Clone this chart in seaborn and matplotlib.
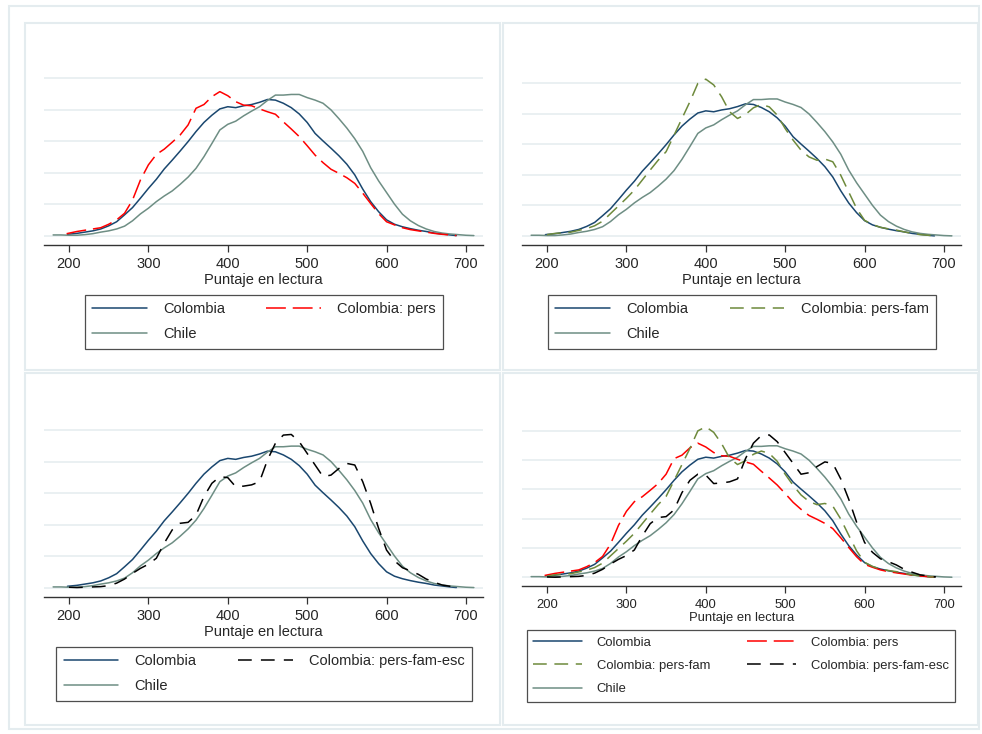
import numpy as np
import pandas as pd
import matplotlib
matplotlib.use("Agg")
import matplotlib.pyplot as plt
from matplotlib.lines import Line2D
from matplotlib.patches import Rectangle
import seaborn as sns

# ---------------- data (score, kernel density x 1000) ----------------
colombia_x = [198, 210, 220, 230, 240, 250, 260, 270, 280, 290, 300, 310, 320, 330, 340,
              350, 360, 370, 380, 390, 400, 410, 420, 430, 440, 450, 460, 470, 480, 490,
              500, 510, 520, 530, 540, 550, 560, 570, 580, 590, 600, 610, 620, 630, 640,
              650, 660, 670, 680, 688]
colombia_y = [0.04, 0.07, 0.11, 0.15, 0.21, 0.31, 0.44, 0.66, 0.89, 1.19, 1.50, 1.79, 2.12, 2.40, 2.69,
              2.99, 3.31, 3.60, 3.83, 4.03, 4.10, 4.07, 4.13, 4.17, 4.24, 4.33, 4.31, 4.21, 4.07, 3.87,
              3.60, 3.25, 3.01, 2.78, 2.54, 2.27, 1.93, 1.48, 1.08, 0.76, 0.50, 0.36, 0.28, 0.22, 0.17,
              0.13, 0.08, 0.05, 0.02, 0.00]

chile_x = [180, 190, 200, 210, 220, 230, 240, 250, 260, 270, 280, 290, 300, 310, 320, 330,
           340, 350, 360, 370, 380, 390, 400, 410, 420, 430, 440, 450, 460, 470, 480, 490,
           500, 510, 520, 530, 540, 550, 560, 570, 580, 590, 600, 610, 620, 630, 640, 650,
           660, 670, 680, 690, 700, 710]
chile_y = [0.02, 0.02, 0.01, 0.01, 0.03, 0.06, 0.11, 0.15, 0.21, 0.30, 0.47, 0.69, 0.87, 1.08, 1.26, 1.42,
           1.63, 1.86, 2.14, 2.51, 2.93, 3.36, 3.54, 3.64, 3.81, 3.96, 4.10, 4.30, 4.47, 4.47, 4.49, 4.49,
           4.39, 4.31, 4.21, 4.00, 3.72, 3.42, 3.08, 2.68, 2.16, 1.74, 1.37, 1.00, 0.68, 0.47, 0.32, 0.21,
           0.13, 0.08, 0.05, 0.03, 0.01, 0.00]

pers_x = [197, 210, 220, 230, 240, 250, 260, 270, 280, 290, 300, 310, 320, 330, 340, 350,
          360, 370, 380, 390, 400, 410, 420, 430, 440, 450, 460, 470, 480, 490, 500, 510,
          520, 530, 540, 550, 560, 570, 580, 590, 600, 610, 620, 630, 640, 650, 660, 670,
          680, 688]
pers_y = [0.06, 0.13, 0.17, 0.21, 0.25, 0.36, 0.50, 0.71, 1.13, 1.77, 2.25, 2.58, 2.75, 2.97, 3.20, 3.52,
          4.05, 4.17, 4.42, 4.58, 4.45, 4.26, 4.15, 4.13, 4.03, 3.94, 3.86, 3.62, 3.39, 3.15, 2.86, 2.56,
          2.32, 2.11, 1.98, 1.84, 1.66, 1.35, 1.02, 0.70, 0.44, 0.34, 0.25, 0.19, 0.15, 0.11, 0.07, 0.04,
          0.02, 0.00]

persfam_x = [200, 210, 220, 230, 240, 250, 260, 270, 280, 290, 300, 310, 320, 330, 340, 350,
             360, 370, 380, 390, 400, 410, 420, 430, 440, 450, 460, 470, 480, 490, 500, 510,
             520, 530, 540, 550, 560, 570, 580, 590, 600, 610, 620, 630, 640, 650, 660, 670,
             680, 688]
persfam_y = [0.04, 0.08, 0.10, 0.12, 0.18, 0.24, 0.33, 0.48, 0.73, 0.98, 1.23, 1.50, 1.83, 2.16, 2.48, 2.76,
             3.30, 3.85, 4.40, 5.00, 5.14, 4.95, 4.56, 4.07, 3.85, 3.98, 4.20, 4.31, 4.23, 3.96, 3.52, 3.14,
             2.81, 2.59, 2.48, 2.52, 2.43, 1.99, 1.44, 0.90, 0.51, 0.37, 0.28, 0.23, 0.19, 0.13, 0.08, 0.04,
             0.02, 0.00]

persfamesc_x = [200, 210, 220, 230, 240, 250, 260, 270, 280, 290, 300, 310, 320, 330, 340, 350,
                360, 370, 380, 390, 400, 410, 420, 430, 440, 450, 460, 470, 480, 490, 500, 510,
                520, 530, 540, 550, 560, 570, 580, 590, 600, 610, 620, 630, 640, 650, 660, 670,
                680, 690]
persfamesc_y = [0.01, 0.00, 0.01, 0.02, 0.03, 0.06, 0.14, 0.27, 0.45, 0.61, 0.74, 0.93, 1.41, 1.83, 2.04, 2.07,
                2.30, 2.89, 3.31, 3.52, 3.49, 3.20, 3.22, 3.26, 3.36, 4.05, 4.58, 4.84, 4.86, 4.63, 4.26, 3.89,
                3.52, 3.57, 3.78, 3.94, 3.89, 3.36, 2.67, 1.88, 1.19, 0.85, 0.63, 0.53, 0.42, 0.27, 0.17, 0.08,
                0.04, 0.01]

names = ["Colombia", "Chile", "Colombia: pers", "Colombia: pers-fam", "Colombia: pers-fam-esc"]
xticks = [200, 300, 400, 500, 600, 700]
xlabel = "Puntaje en lectura"

frames = []
for name, xs, ys in [(names[0], colombia_x, colombia_y), (names[1], chile_x, chile_y),
                     (names[2], pers_x, pers_y), (names[3], persfam_x, persfam_y),
                     (names[4], persfamesc_x, persfamesc_y)]:
    frames.append(pd.DataFrame({"puntaje": xs, "densidad": np.array(ys) * 1e-3, "serie": name}))
df = pd.concat(frames, ignore_index=True)

# ---------------- styles ----------------
palette = {"Colombia": "#1a476f", "Chile": "#6e8e84", "Colombia: pers": "#ff0000",
           "Colombia: pers-fam": "#6e8a3c", "Colombia: pers-fam-esc": "#000000"}
dash_map = {"Colombia": "", "Chile": "", "Colombia: pers": (13, 4.5),
            "Colombia: pers-fam": (9, 5), "Colombia: pers-fam-esc": (9, 6)}

sns.set_style("white")
plt.rcParams["font.family"] = ["Liberation Sans", "DejaVu Sans"]

W, H = 982, 734
fig = plt.figure(figsize=(W / 100, H / 100), dpi=100)
fig.patch.set_facecolor("white")


def rect(l, t, r, b):
    return [l / W, 1 - b / H, (r - l) / W, (b - t) / H]


frame_col = "#e4ecef"
fig.patches.append(Rectangle((9 / W, 1 - 729 / H), 970 / W, 723 / H, transform=fig.transFigure,
                             fill=False, edgecolor=frame_col, lw=1.5))
for (l, t, r, b) in [(25, 23, 500, 370), (503, 23, 978, 370), (25, 373, 500, 725), (503, 373, 978, 725)]:
    fig.patches.append(Rectangle((l / W, 1 - b / H), (r - l) / W, (b - t) / H, transform=fig.transFigure,
                                 fill=False, edgecolor=frame_col, lw=1.5))

panels = [
    dict(series=["Colombia", "Chile", "Colombia: pers"], box=(44, 69, 483, 245), fs=10.5,
         leg=(264, 295), ls=0.75, legorder=["Colombia", "Chile", "Colombia: pers"]),
    dict(series=["Colombia", "Chile", "Colombia: pers-fam"], box=(522, 70, 961, 245), fs=10.5,
         leg=(742, 295), ls=0.75, legorder=["Colombia", "Chile", "Colombia: pers-fam"]),
    dict(series=["Colombia", "Chile", "Colombia: pers-fam-esc"], box=(44, 420.6, 483, 597), fs=10.5,
         leg=(264, 647), ls=0.75, legorder=["Colombia", "Chile", "Colombia: pers-fam-esc"]),
    dict(series=["Colombia", "Chile", "Colombia: pers", "Colombia: pers-fam", "Colombia: pers-fam-esc"],
         box=(522, 418, 961, 586), fs=9.4, leg=(741, 630), ls=0.86,
         legorder=["Colombia", "Colombia: pers-fam", "Chile", "Colombia: pers", "Colombia: pers-fam-esc"]),
]

for p in panels:
    ax = fig.add_axes(rect(*p["box"]))
    sub = df[df["serie"].isin(p["series"])]
    sns.lineplot(data=sub, x="puntaje", y="densidad", hue="serie", style="serie",
                 hue_order=p["series"], style_order=p["series"],
                 palette=palette, dashes=dash_map, estimator=None, errorbar=None,
                 sort=False, legend=False, lw=1.1, ax=ax)
    ymax = max(0.005, sub["densidad"].max()) + 0.0003
    ax.set_ylim(-0.0003, ymax)
    ax.set_xlim(168.5, 721.5)
    ax.set_yticks([0, 0.001, 0.002, 0.003, 0.004, 0.005])
    ax.set_xticks(xticks)
    ax.yaxis.grid(True, color="#e6eef0", lw=1.2)
    ax.xaxis.grid(False)
    ax.set_axisbelow(True)
    ax.tick_params(axis="y", left=False, labelleft=False)
    ax.tick_params(axis="x", bottom=True, direction="out", length=5, width=0.9, color="#333333",
                   labelsize=p["fs"], pad=4)
    for s in ["left", "right", "top"]:
        ax.spines[s].set_visible(False)
    ax.spines["bottom"].set_color("#333333")
    ax.spines["bottom"].set_linewidth(1.0)
    ax.set_xlabel(xlabel, fontsize=p["fs"], labelpad=1.2)
    ax.set_ylabel("")

    handles = []
    for n in p["legorder"]:
        d = dash_map[n]
        lstyle = "-" if d == "" else (0, d)
        handles.append(Line2D([], [], color=palette[n], lw=1.1, linestyle=lstyle, label=n))
    leg = ax.legend(handles=handles, ncol=2, loc="upper center",
                    bbox_to_anchor=(p["leg"][0] / W, 1 - p["leg"][1] / H),
                    bbox_transform=fig.transFigure, fontsize=p["fs"], frameon=True,
                    fancybox=False, shadow=False, handlelength=3.75, handletextpad=1.1,
                    columnspacing=2.85, labelspacing=p["ls"], borderpad=0.5, borderaxespad=0)
    leg.get_frame().set_edgecolor("#222222")
    leg.get_frame().set_linewidth(0.9)

fig.savefig("out.png", dpi=100, facecolor="white")
